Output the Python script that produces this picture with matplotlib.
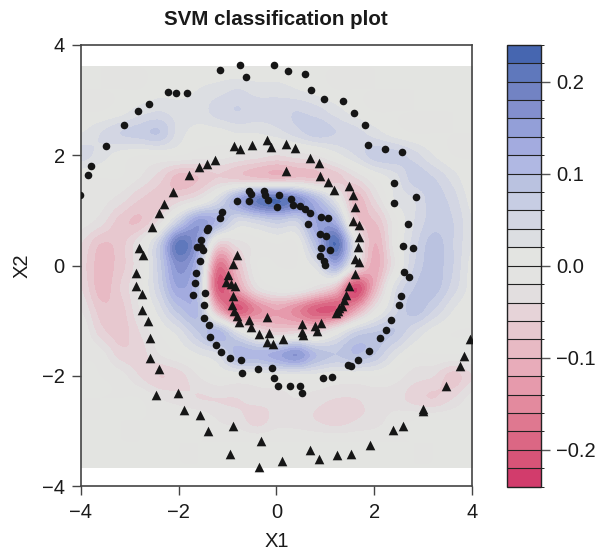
import numpy as np
import matplotlib
matplotlib.use('Agg')
import matplotlib.pyplot as plt
from matplotlib.colors import BoundaryNorm, ListedColormap
from matplotlib.patches import Rectangle

plt.rcParams['font.family'] = ['Liberation Sans', 'DejaVu Sans']

# decision values on a coarse grid, in hundredths
grid_x = [-4, -3.6, -3.2, -2.8, -2.4, -2, -1.6, -1.2, -0.8, -0.4, 0, 0.4, 0.8, 1.2, 1.6, 2, 2.4, 2.8, 3.2, 3.6, 4]
grid_y = [3.6, 3.2, 2.8, 2.4, 2, 1.6, 1.2, 0.8, 0.4, 0, -0.4, -0.8, -1.2, -1.6, -2, -2.4, -2.8, -3.2, -3.6]
field = [
    [0, 0, 0, 0, 0, 0, 0, 0, 0, 0, 0, 0, 0, 0, 0, 0, 0, 0, 0, 0, 0],
    [0, 0, 0, 0, 1, 1, 2, 3, 4, 3, 3, 2, 1, 0, 0, 0, 0, 0, 0, 0, 0],
    [0, 0, 1, 3, 4, 3, 3, 5, 6, 5, 5, 6, 5, 3, 1, 0, 0, 0, 0, 0, 0],
    [2, 4, 6, 7, 8, 3, 1, 1, 2, 2, 3, 5, 7, 6, 5, 3, 1, 0, 0, 0, 0],
    [5, 3, 1, 0, 0, 0, -1, -1, -2, -3, -4, -3, -2, 1, 4, 7, 7, 5, 2, 0, 0],
    [0, 0, 0, -2, -5, -9, -8, -6, -7, -8, -9, -8, -8, -7, -4, 0, 3, 7, 6, 3, 0],
    [0, -1, -3, -6, -7, -5, -2, 4, 13, 20, 22, 18, 11, 2, -9, -4, 2, 4, 7, 5, 1],
    [-1, -3, -7, -8, -3, 7, 15, 11, 4, 5, 7, 6, 14, 12, -6, -8, -1, 4, 7, 6, 2],
    [-4, -8, -7, -2, 7, 21, 14, -5, -3, -1, 0, 0, 10, 22, 2, -10, -1, 5, 9, 6, 2],
    [-5, -9, -7, -2, 7, 17, 10, -17, -8, 0, 0, 0, 3, 12, -2, -11, -2, 6, 9, 6, 1],
    [-4, -9, -6, -1, 6, 14, 8, -20, -12, -3, 0, 0, -3, -8, -22, -10, 3, 8, 9, 5, 1],
    [-2, -7, -7, -2, 3, 9, 10, -10, -20, -15, -12, -15, -20, -20, -12, -2, 5, 9, 6, 2, 0],
    [0, -5, -7, -4, 0, 3, 8, 11, 3, -3, -6, -5, -5, 0, 6, 8, 8, 4, 1, 0, 0],
    [0, -1, -5, -5, -2, 0, 2, 4, 11, 11, 13, 16, 10, 8, 10, 8, 3, 0, 0, 0, 0],
    [0, 0, -1, -4, -6, -5, -2, 0, 0, 0, 1, 1, 1, 0, 0, 0, -1, -3, -4, -7, -4],
    [0, 0, 0, 0, -2, -3, -4, -4, -4, -3, -3, -2, -3, -4, -4, -3, -3, -5, -6, -4, -1],
    [0, 0, 0, 0, 0, 0, 0, -2, -3, -5, -3, -3, -4, -5, -4, -3, -1, 0, 0, 0, 0],
    [0, 0, 0, 0, 0, 0, 0, 0, 0, 0, 0, 0, 0, 0, 0, 0, 0, 0, 0, 0, 0],
    [0, 0, 0, 0, 0, 0, 0, 0, 0, 0, 0, 0, 0, 0, 0, 0, 0, 0, 0, 0, 0],
]

circle_x = [-1.155, -0.746, -0.63, -0.045, -2.225, -2.06, -1.83, -2.6, -2.83, -3.12, -3.49, -3.79, -3.85, -4.02,
            -0.562, -0.52, -0.262, -0.235, -0.174, 0.057, 0.004, -0.808, -0.556, -1.108, -1.162, -1.394, -1.415,
            -1.55, -1.626, -1.55, -1.497, -1.564, -1.646, -1.673, -1.7, -1.468, -1.489, -1.489, -1.387, -1.354,
            -1.243, -1.129, -0.957, -0.732, -0.699, -0.378, -0.098, -0.057, 0.037, 0.27, 0.474, 0.521, 0.945,
            1.135, 1.456, 1.524, 1.673, 1.892, 2.123, 2.233, 2.335, 2.511, 2.54, 2.601, 2.716, 0.241, 0.583,
            0.699, 0.965, 1.36, 1.591, 1.804, 1.865, 2.219, 2.566, 2.397, 2.403, 2.853, 2.695, 2.581, 2.798,
            0.303, 0.344, 0.481, 0.589, 0.679, 0.638, 0.916, 1.053, 0.896, 1.006, 0.91, 1.1, 0.883, 0.977, 0.998]
circle_y = [3.546, 3.637, 3.42, 3.637, 3.148, 3.13, 3.13, 2.93, 2.8, 2.55, 2.165, 1.81, 1.645, 1.28,
            1.356, 1.3, 1.356, 1.278, 1.193, 1.283, 1.066, 1.175, 1.175, 0.976, 0.867, 0.675, 0.639,
            0.463, 0.342, 0.331, 0.282, 0.089, -0.128, -0.315, -0.527, -0.496, -0.708, -0.943, -1.075, -1.292,
            -1.437, -1.576, -1.672, -1.703, -1.944, -1.866, -1.853, -2.047, -2.179, -2.174, -2.174, -2.318, -2.047,
            -2.011, -1.799, -1.817, -1.721, -1.54, -1.305, -1.16, -0.979, -0.708, -0.545, -0.11, -0.2, 3.528, 3.473,
            3.184, 3.021, 2.985, 2.767, 2.55, 2.188, 2.116, 2.062, 1.5, 1.138, 1.247, 0.758, 0.36, 0.324,
            1.211, 1.102, 1.084, 1.03, 0.957, 0.758, 0.885, 0.867, 0.577, 0.541, 0.324, 0.288, 0.179, 0.083, 0.016]

triangle_x = [-0.869, -0.746, -0.495, -0.2, -0.106, -1.252, -1.427, -1.579, -1.783, -2.123, -2.294, -2.397, -2.54,
              -2.798, -2.736, -0.814, -0.89, 0.194, 0.372, 0.691, 0.863, 0.194, 0.896, 1.047, 1.176, 1.489, 1.571,
              1.605, 1.558, 1.693, 1.681, 1.661, 1.605, 1.693, -2.873, -2.873, -2.744, -2.75, -2.628, -2.587,
              -2.581, -2.389, -2.464, -2.008, -1.885, -1.558, -1.401, -0.883, -0.951, -0.317, -0.364, -0.998,
              -1.026, -0.937, -0.849, -0.89, -0.916, -0.875, -0.808, -0.767, -0.556, -0.521, -0.2, -0.352, -0.153,
              -0.188, -0.072, 0.139, 0.528, 0.521, 0.548, 0.793, 0.822, 0.916, 1.211, 1.252, 1.284, 1.333, 1.38,
              1.421, 1.489, 1.605, 3.957, 3.834, 3.759, 3.46, 3.002, 3.002, 2.587, 2.376, 1.906, 1.517, 1.237,
              0.869, 0.679, 0.119]
triangle_y = [2.159, 2.11, 2.177, 2.268, 2.141, 1.911, 1.844, 1.785, 1.645, 1.327, 1.115, 0.952, 0.699,
              0.313, 0.192, 0.192, 0.034, 2.206, 2.134, 1.947, 1.852, 1.707, 1.622, 1.508, 1.368, 1.446, 1.272,
              1.066, 0.807, 0.735, 0.523, 0.331, 0.119, 0.06, -0.139, -0.375, -0.509, -0.809, -1.003, -1.316,
              -1.667, -1.866, -2.342, -2.306, -2.614, -2.717, -3.0, -2.909, -3.41, -3.187, -3.651, -0.17,
              -0.297, -0.328, -0.369, -0.545, -0.713, -0.816, -0.912, -1.021, -0.979, -1.106, -0.936, -1.243, -1.214,
              -1.377, -1.414, -1.329, -1.063, -1.196, -1.256, -1.099, -1.189, -1.039, -0.863, -0.816, -0.773, -0.726, -0.623,
              -0.527, -0.364, -0.152, -1.334, -1.642, -1.823, -2.179, -2.601, -2.644, -2.903, -2.981, -3.26, -3.41, -3.428,
              -3.5, -3.35, -3.542]

level_edges = np.arange(-12, 13) * 0.02
level_colors = ['#D23C6C', '#D75478', '#DB6784', '#DF7890', '#E38A9E', '#E69AAC', '#E8ACBA', '#E8BAC4',
                '#E7C8CF', '#E6D3D8', '#E2DEDF', '#E3E3E1', '#E3E4E1', '#DCDEE2', '#D3D6E3', '#C7CDE3',
                '#BAC2E0', '#B0B8E3', '#A3ABDF', '#939FD8', '#838FCD', '#7283C3', '#5F78BC', '#4666B0']
cbar_ticks = [-0.2, -0.1, 0.0, 0.1, 0.2]
axis_ticks = [-4, -2, 0, 2, 4]

fig = plt.figure(figsize=(6.04, 5.52), dpi=100)
W, H = 604.0, 552.0
ax = fig.add_axes([80.7 / W, 1 - 486.3 / H, 391.3 / W, 441.6 / H])
cax = fig.add_axes([506.7 / W, 1 - 486.7 / H, 34 / W, 442 / H])

cmap = ListedColormap(level_colors)
norm = BoundaryNorm(level_edges, cmap.N)
Z = np.array(field) / 100.0

im = ax.imshow(Z, cmap=cmap, norm=norm, interpolation='catrom', interpolation_stage='data',
               extent=(grid_x[0] - 0.2, grid_x[-1] + 0.2, grid_y[-1] - 0.2, grid_y[0] + 0.2),
               aspect='auto', zorder=1)
im.set_clip_path(Rectangle((-4, -3.66), 8, 7.28, transform=ax.transData))

ax.scatter(circle_x, circle_y, s=30, marker='o', color='#161616', linewidths=0, zorder=3)
ax.scatter(triangle_x, triangle_y, s=48, marker='^', color='#161616', linewidths=0, zorder=3)

ax.set_xlim(-4, 4)
ax.set_ylim(-4, 4)
ax.set_xticks(axis_ticks)
ax.set_yticks(axis_ticks)
ax.set_xticklabels(['\u22124', '\u22122', '0', '2', '4'])
ax.set_yticklabels(['\u22124', '\u22122', '0', '2', '4'])
ax.tick_params(length=6.5, width=1.0, color='#444444', labelsize=14.5, labelcolor='#1a1a1a')
ax.tick_params(axis='x', pad=5.5)
ax.tick_params(axis='y', pad=5)
for s in ax.spines.values():
    s.set_color('#444444')
    s.set_linewidth(1.2)
ax.set_xlabel('X1', fontsize=14.5, color='#1a1a1a', labelpad=7)
ax.set_ylabel('X2', fontsize=14.5, color='#1a1a1a', labelpad=7)
ax.set_title('SVM classification plot', fontsize=14.8, fontweight='bold', color='#1a1a1a', pad=14)

cb = fig.colorbar(im, cax=cax, ticks=cbar_ticks, drawedges=True, spacing='proportional')
cb.ax.set_yticklabels(['\u22120.2', '\u22120.1', '0.0', '0.1', '0.2'])
cb.ax.tick_params(length=6.5, width=1.0, color='#555555', labelsize=14.5, pad=4.5, labelcolor='#1a1a1a')
cb.dividers.set_color('#222222')
cb.dividers.set_linewidth(0.8)
cb.outline.set_edgecolor('#222222')
cb.outline.set_linewidth(1.0)

fig.savefig('out.png', dpi=100)
